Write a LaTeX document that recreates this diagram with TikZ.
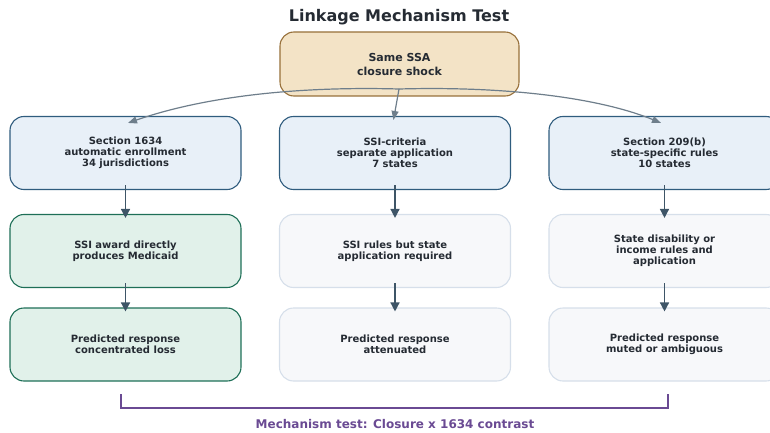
\documentclass[tikz,border=0pt]{standalone}
\usepackage{fontspec}
\setmainfont{DejaVu Sans}
\usetikzlibrary{arrows.meta}
\definecolor{txt}{HTML}{252B33}
\definecolor{topfill}{HTML}{F3E3C6}
\definecolor{topdraw}{HTML}{97703A}
\definecolor{bluefill}{HTML}{E8F0F8}
\definecolor{bluedraw}{HTML}{2F5C7E}
\definecolor{greenfill}{HTML}{E1F1EA}
\definecolor{greendraw}{HTML}{1E6F57}
\definecolor{greyfill}{HTML}{F7F8FA}
\definecolor{greydraw}{HTML}{D6DFEA}
\definecolor{arr}{HTML}{3E5567}
\definecolor{curv}{HTML}{6E7E8B}
\definecolor{purp}{HTML}{6A4A93}
\begin{document}
\begin{tikzpicture}[x=1pt,y=-1pt,
  box/.style={rounded corners=14pt, line width=1.1pt, minimum width=231pt, minimum height=73pt,
    align=center, text=txt, font=\fontsize{10}{11}\selectfont\bfseries, inner sep=0pt},
  topbox/.style={box, fill=topfill, draw=topdraw, minimum width=239pt, minimum height=64pt, font=\fontsize{11}{14}\selectfont\bfseries},
  bluebox/.style={box, fill=bluefill, draw=bluedraw},
  greenbox/.style={box, fill=greenfill, draw=greendraw},
  greybox/.style={box, fill=greyfill, draw=greydraw},
  varrow/.style={draw=arr, line width=1.4pt, -{Triangle[length=9pt,width=9pt]}},
  carrow/.style={draw=curv, line width=1.2pt, -{Triangle[length=9pt,width=7pt]}}
]
\useasboundingbox (0,0) rectangle (770,433);
\node[font=\fontsize{16}{19}\selectfont\bfseries, text=txt] (title) at (399,17) {Linkage Mechanism Test};
\node[topbox] (top) at (399.5,64) {Same SSA\\closure shock};

\node[bluebox] (a1) at (125.5,153) {Section 1634\\automatic enrollment\\34 jurisdictions};
\node[bluebox] (b1) at (395,153) {SSI-criteria\\separate application\\7 states};
\node[bluebox] (c1) at (664.5,153) {Section 209(b)\\state-specific rules\\10 states};

\node[greenbox] (a2) at (125.5,251) {SSI award directly\\produces Medicaid};
\node[greybox] (b2) at (395,251) {SSI rules but state\\application required};
\node[greybox] (c2) at (664.5,251) {State disability or\\income rules and\\application};

\node[greenbox] (a3) at (125.5,344.5) {Predicted response\\concentrated loss};
\node[greybox] (b3) at (395,344.5) {Predicted response\\attenuated};
\node[greybox] (c3) at (664.5,344.5) {Predicted response\\muted or ambiguous};

\coordinate (src) at (399,89);
\draw[carrow] (src) .. controls (290,86) and (200,98) .. ([xshift=2.5pt,yshift=-7pt]a1.north);
\draw[carrow] (src) .. controls (508,86) and (600,98) .. ([xshift=-3.5pt,yshift=-7pt]c1.north);
\draw[carrow] (src) -- ([xshift=-1.5pt,yshift=-4pt]b1.north);

\foreach \u/\v in {a1/a2,b1/b2,c1/c2,a2/a3,b2/b3,c2/c3}{
  \draw[varrow] ([yshift=5pt]\u.south) -- ([yshift=-4pt]\v.north);
}

\coordinate (bl) at (121,394);
\coordinate (br) at (668,394);
\draw[draw=purp, line width=1.3pt] (bl) -- (121,408) -- (668,408) -- (br);
\node[text=purp, font=\fontsize{12}{14}\selectfont\bfseries] (lab) at (395,424) {Mechanism test: Closure x 1634 contrast};
\end{tikzpicture}
\end{document}
